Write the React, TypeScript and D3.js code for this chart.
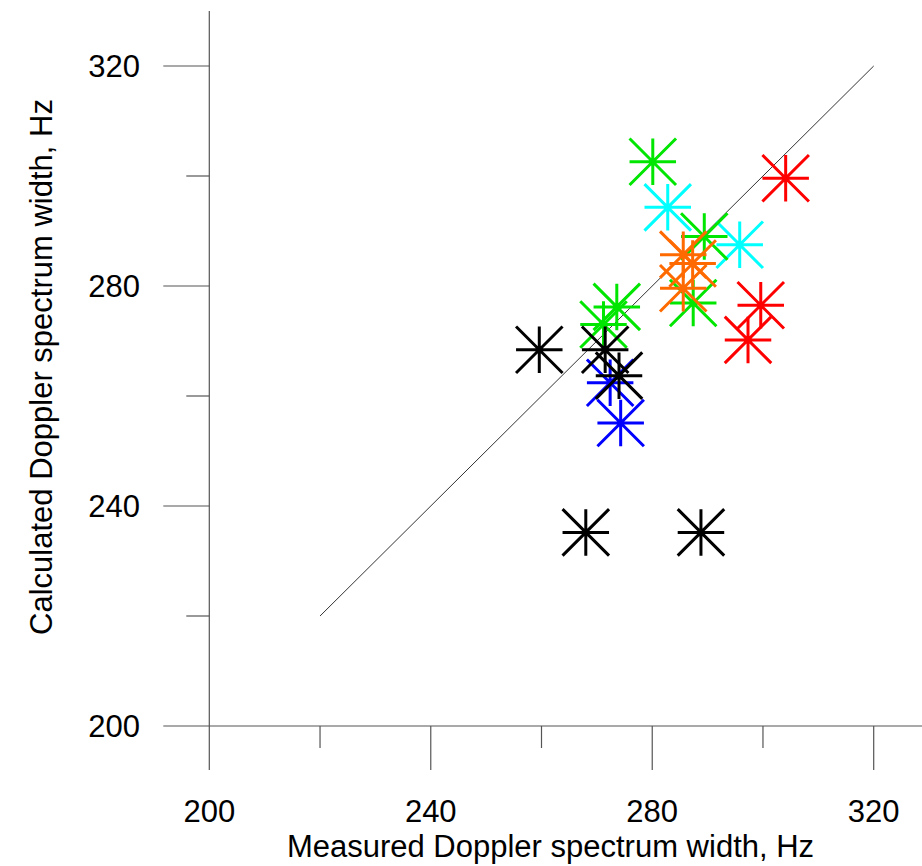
import React from 'react'
import * as d3 from 'd3'

const [W, H] = [922, 866]
const FONT = '"Liberation Sans", Arial, sans-serif'

// measured vs calculated spectrum width (Hz), one pair of arrays per colour group
const cyanX = [282.8, 295.8]
const cyanY = [294.3, 287.5]
const blueX = [272.4, 274.3]
const blueY = [262.4, 255.1]
const greenX = [280.1, 289.4, 287.4, 273.6, 271.2]
const greenY = [302.6, 289.0, 276.9, 276.2, 273.0]
const redX = [304.1, 299.6, 297.3]
const redY = [299.6, 276.5, 270.2]
const orangeX = [285.6, 287.3, 285.6]
const orangeY = [285.7, 284.1, 279.6]
const blackX = [259.6, 271.5, 274.0, 268.0, 288.8]
const blackY = [268.4, 268.4, 263.7, 235.2, 235.2]

const groups = [
  { xs: cyanX, ys: cyanY, color: '#00ffff' },
  { xs: blueX, ys: blueY, color: '#0000ff' },
  { xs: greenX, ys: greenY, color: '#00e600' },
  { xs: redX, ys: redY, color: '#ff0000' },
  { xs: orangeX, ys: orangeY, color: '#ff6a00' },
  { xs: blackX, ys: blackY, color: '#000000' },
]

const majorTicks = [200, 240, 280, 320]
const minorTicks = [220, 260, 300]
const lineEnds = [220, 320]

const xScale = d3.scaleLinear().domain([200, 320]).range([209.3, 873.7])
const yScale = d3.scaleLinear().domain([200, 320]).range([726, 66])

// asterisk: horizontal, vertical and corner-to-corner diagonals
const asterisk = {
  draw(ctx, size) {
    const r = Math.sqrt(size) / 2
    ctx.moveTo(-r, 0); ctx.lineTo(r, 0)
    ctx.moveTo(0, -r); ctx.lineTo(0, r)
    ctx.moveTo(-r, -r); ctx.lineTo(r, r)
    ctx.moveTo(-r, r); ctx.lineTo(r, -r)
  },
}
const starPath = d3.symbol().type(asterisk).size(46.5 * 46.5)()

export default function App() {
  const x0 = xScale(200)
  const y0 = yScale(200)
  const diag = d3.line()(lineEnds.map(v => [xScale(v), yScale(v)]))
  const axisColor = '#555'

  return (
    <svg width={W} height={H} style={{ position: 'absolute', left: 0, top: 0, background: '#fff' }}
      fontFamily={FONT}>
      {/* axes */}
      <line x1={x0} x2={xScale(330)} y1={y0} y2={y0} stroke={axisColor} strokeWidth={1.2} />
      <line x1={x0} x2={x0} y1={y0} y2={yScale(330)} stroke={axisColor} strokeWidth={1.2} />
      {majorTicks.map(t => (
        <g key={'mx' + t}>
          <line x1={xScale(t)} x2={xScale(t)} y1={y0} y2={y0 + 44} stroke={axisColor} strokeWidth={1.2} />
          <text x={xScale(t)} y={822} textAnchor="middle" fontSize={31}>{t}</text>
          <line x1={x0 - 46} x2={x0} y1={yScale(t)} y2={yScale(t)} stroke={axisColor} strokeWidth={1.2} />
          <text x={140} y={yScale(t) + 11} textAnchor="end" fontSize={31}>{t}</text>
        </g>
      ))}
      {minorTicks.map(t => (
        <g key={'mn' + t}>
          <line x1={xScale(t)} x2={xScale(t)} y1={y0} y2={y0 + 22} stroke={axisColor} strokeWidth={1.2} />
          <line x1={x0 - 23} x2={x0} y1={yScale(t)} y2={yScale(t)} stroke={axisColor} strokeWidth={1.2} />
        </g>
      ))}
      <text x={(283 + 818) / 2} y={857} textAnchor="middle" fontSize={31}>
        Measured Doppler spectrum width, Hz
      </text>
      <text transform={`translate(52, 367) rotate(-90)`} textAnchor="middle" fontSize={31}>
        Calculated Doppler spectrum width, Hz
      </text>

      {/* 1:1 line */}
      <path d={diag} fill="none" stroke="#333" strokeWidth={1} />

      {groups.map((g, gi) => (
        <g key={gi}>
          {g.xs.map((v, i) => (
            <path key={i} d={starPath} transform={`translate(${xScale(v)}, ${yScale(g.ys[i])})`}
              fill="none" stroke={g.color} strokeWidth={3} />
          ))}
        </g>
      ))}
    </svg>
  )
}
